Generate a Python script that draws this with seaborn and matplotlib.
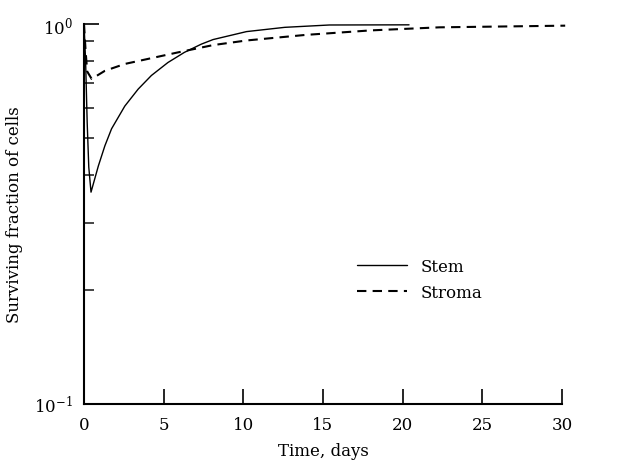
import matplotlib
matplotlib.use("Agg")
import matplotlib.pyplot as plt
import seaborn as sns
import pandas as pd
import numpy as np

stem_t = [0.0, 0.1, 0.2, 0.3, 0.44, 0.9, 1.31, 1.73, 2.56, 3.4, 4.23, 5.27, 6.3, 7.36, 8.1, 10.2, 12.6, 15.4, 20.4]
stem_v = [1.0, 0.8, 0.55, 0.42, 0.361, 0.423, 0.478, 0.53, 0.608, 0.674, 0.732, 0.792, 0.842, 0.885, 0.91, 0.955, 0.98, 0.994, 0.995]
stroma_t = [0.0, 0.1, 0.2, 0.48, 1.31, 2.56, 4.23, 5.9, 8.1, 10.2, 13.9, 18.0, 22.3, 30.2]
stroma_v = [1.0, 0.85, 0.75, 0.717, 0.753, 0.785, 0.813, 0.842, 0.88, 0.905, 0.936, 0.962, 0.98, 0.99]
x_ticks = [0, 5, 10, 15, 20, 25, 30]

df = pd.concat([
    pd.DataFrame({"t": stem_t, "v": stem_v, "series": "Stem"}),
    pd.DataFrame({"t": stroma_t, "v": stroma_v, "series": "Stroma"}),
])

sns.set_style("ticks")
plt.rcParams["font.family"] = ["DejaVu Serif"]
plt.rcParams["mathtext.fontset"] = "dejavuserif"
plt.rcParams["text.color"] = "black"
plt.rcParams["axes.labelcolor"] = "black"

fig = plt.figure(figsize=(6.18, 4.64), dpi=100)
ax = fig.add_axes([84/618, 59/464, (562-84)/618, (405-25)/464])

sns.lineplot(data=df, x="t", y="v", hue="series", style="series",
             palette={"Stem": "black", "Stroma": "black"},
             dashes={"Stem": "", "Stroma": (4.5, 3)},
             linewidth=1.0, ax=ax, estimator=None, sort=False)
for ln in ax.lines:
    ln.set_clip_on(False)
ax.lines[1].set_linewidth(1.5)

ax.set_yscale("log")
ax.set_ylim(0.1, 1.0)
ax.set_xlim(0, 30)
ax.set_xticks(x_ticks)
ax.set_xticklabels([str(v) for v in x_ticks])
ax.set_yticks([0.1, 1.0])
ax.set_yticklabels([r"$10^{-1}$", r"$10^{0}$"])
ax.yaxis.set_minor_locator(matplotlib.ticker.LogLocator(base=10, subs=np.arange(2, 10)))
ax.yaxis.set_minor_formatter(matplotlib.ticker.NullFormatter())

ax.tick_params(axis="both", which="major", direction="in", length=11, width=1.2, labelsize=12, colors="black")
ax.tick_params(axis="x", which="major", pad=9)
ax.tick_params(axis="y", which="major", pad=8)
ax.tick_params(axis="y", which="minor", direction="in", length=7, width=1.2)
ax.tick_params(axis="x", which="minor", length=0)

for s in ["top", "right"]:
    ax.spines[s].set_visible(False)
for s in ["left", "bottom"]:
    ax.spines[s].set_linewidth(1.5)
    ax.spines[s].set_color("black")

ax.set_xlabel("Time, days", fontsize=12, labelpad=6, color="black")
ax.set_ylabel("Surviving fraction of cells", fontsize=12, color="black")
ax.yaxis.set_label_coords(-0.127, 0.5)

leg = ax.legend(loc="upper left", bbox_to_anchor=(0.54, 0.425), frameon=False,
                fontsize=12, handlelength=3.0, handletextpad=0.8, labelspacing=0.55)
for t in leg.get_texts():
    t.set_color("black")
for h, lw in zip(leg.get_lines(), [1.0, 1.5]):
    h.set_linewidth(lw)

fig.savefig("out.png", dpi=100)
